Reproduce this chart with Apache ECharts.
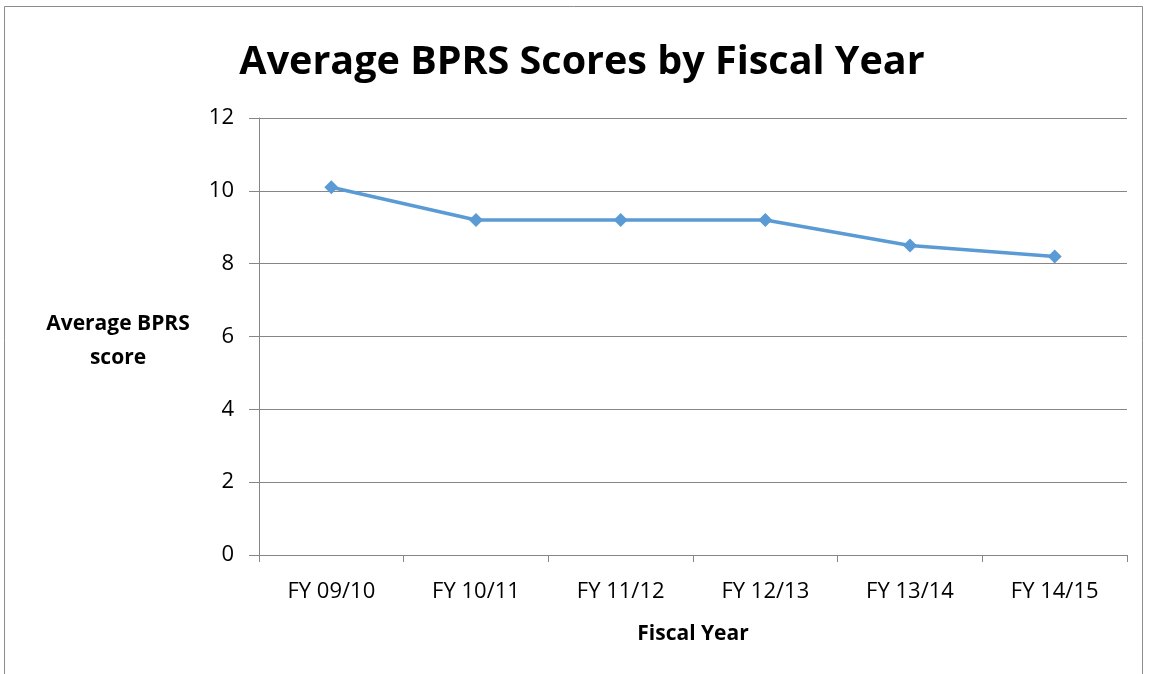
<!DOCTYPE html>
<html><head><meta charset="utf-8">
<script src="https://cdn.jsdelivr.net/npm/echarts@6/dist/echarts.min.js"></script>
<style>html,body{margin:0;padding:0;background:#fff}#c{width:1151px;height:674px}</style>
</head><body><div id="c"></div>
<script>
const categories = ['FY 09/10','FY 10/11','FY 11/12','FY 12/13','FY 13/14','FY 14/15'];
const scores = [10.1, 9.2, 9.2, 9.2, 8.5, 8.2];
const yTicks = {min: 0, max: 12, interval: 2};
const titleText = 'Average BPRS Scores by Fiscal Year';
const xTitle = 'Fiscal Year';
const yTitle = 'Average BPRS\nscore';

const font = '"Open Sans", "Noto Sans", sans-serif';
const chart = echarts.init(document.getElementById('c'));
chart.setOption({
  animation: false,
  backgroundColor: '#fff',
  title: {text: titleText, left: 577, top: 38, textAlign: 'center',
    textStyle: {fontFamily: font, fontSize: 39.5, fontWeight: 'bold', color: '#000'}},
  graphic: [
    {type: 'rect', shape: {x: 4.5, y: 6.5, width: 1138, height: 680}, style: {fill: 'none', stroke: '#8c8c8c', lineWidth: 1}},
    {type: 'text', x: 118, y: 307, style: {text: yTitle, font: 'bold 21px ' + font, fill: '#000', lineHeight: 34, align: 'center', verticalAlign: 'top'}}
  ],
  grid: {left: 259, right: 24, top: 118, bottom: 119},
  xAxis: {type: 'category', data: categories, boundaryGap: true,
    axisLine: {lineStyle: {color: '#868686', width: 1}},
    axisTick: {show: true, alignWithLabel: false, length: 7, lineStyle: {color: '#868686'}},
    axisLabel: {fontFamily: font, fontSize: 22, color: '#000', margin: 26},
    name: xTitle, nameLocation: 'middle', nameGap: 69,
    nameTextStyle: {fontFamily: font, fontSize: 21, fontWeight: 'bold', color: '#000'}},
  yAxis: {type: 'value', min: yTicks.min, max: yTicks.max, interval: yTicks.interval,
    axisLine: {show: true, lineStyle: {color: '#868686'}},
    axisTick: {show: true, length: 10, lineStyle: {color: '#868686'}},
    splitLine: {lineStyle: {color: '#868686', width: 1}},
    axisLabel: {fontFamily: font, fontSize: 22, color: '#000', margin: 25}},
  series: [{type: 'line', data: scores, symbol: 'diamond', symbolSize: 14,
    lineStyle: {color: '#5B9BD5', width: 3.5}, itemStyle: {color: '#5B9BD5'}}]
});
</script></body></html>
